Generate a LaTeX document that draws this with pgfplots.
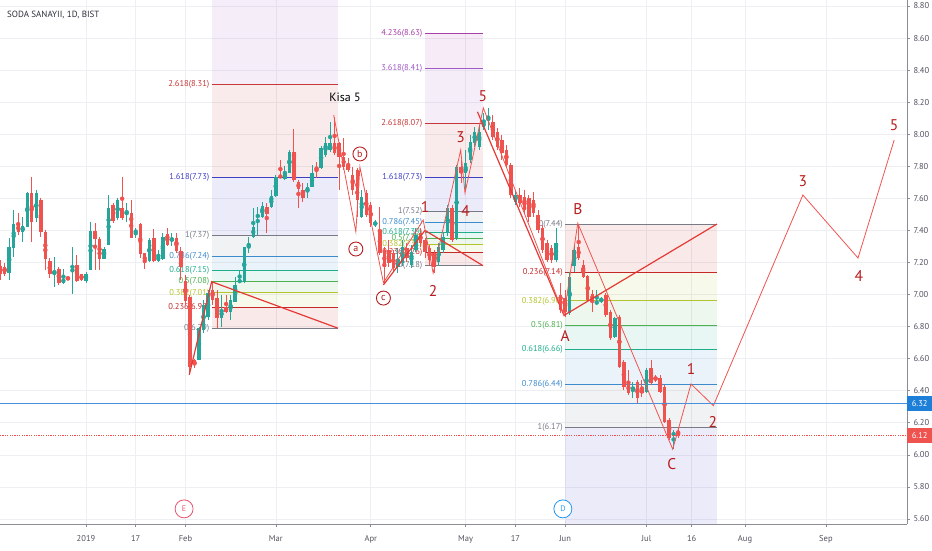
\documentclass[border=0pt]{standalone}
\usepackage{pgfplots}
\pgfplotsset{compat=1.18}
\usepackage{pgfplotstable}
\usepackage{fontspec}
\setmainfont{PT Sans}
\definecolor{cg}{HTML}{26A69A}
\definecolor{cr}{HTML}{EF5350}
\definecolor{tool}{HTML}{E53935}
\definecolor{wlab}{HTML}{B71C1C}
\definecolor{lv0}{HTML}{787B86}
\definecolor{lvA}{HTML}{C62828}
\definecolor{lvB}{HTML}{B2C42E}
\definecolor{lvC}{HTML}{4CAF50}
\definecolor{lvD}{HTML}{1FAE8C}
\definecolor{lvE}{HTML}{3D8BCD}
\definecolor{lvF}{HTML}{3F3FC4}
\definecolor{lvG}{HTML}{C83737}
\definecolor{lvH}{HTML}{A05AC8}
\definecolor{lvI}{HTML}{A83EA8}
\definecolor{gridc}{HTML}{EDEFF3}
\definecolor{axc}{HTML}{8A8D96}
\definecolor{lblc}{HTML}{50535E}
\definecolor{blueln}{HTML}{4A8FDC}
\definecolor{bluebox}{HTML}{1E7FD8}
\definecolor{titlec}{HTML}{2A2E39}
\definecolor{ecol}{HTML}{E8546F}
\definecolor{dcol}{HTML}{2196F3}
\newcommand{\fs}{\fontsize{8.5}{9}\selectfont}
\newcommand{\wf}{\fontsize{15.5}{15.5}\selectfont}
\newcommand{\lev}[6]{\addplot[#5, line width=1pt, forget plot] coordinates {(#2,#4) (#3,#4)};
 \node[anchor=east, inner sep=0.5pt, text=#5, font=\fs] at (axis cs:#1,#4) {#6};}
\newcommand{\band}[5]{\addplot[draw=none, fill=#5, fill opacity=0.1, forget plot] coordinates {(#1,#3) (#2,#3) (#2,#4) (#1,#4)} -- cycle;}

\pgfplotstableread{
d o h l c
-17 7.136 7.350 7.091 7.294
-16 7.292 7.527 7.236 7.438
-14 7.392 7.486 7.330 7.427
-13 7.423 7.642 7.423 7.631
-11 7.479 7.652 7.455 7.636
-7 7.132 7.236 7.045 7.136
-5 7.074 7.157 7.066 7.097
-3 7.168 7.299 7.003 7.178
0 7.084 7.143 7.074 7.128
1 7.153 7.454 7.153 7.396
4 7.222 7.299 7.220 7.284
5 7.309 7.621 7.309 7.538
7 7.475 7.600 7.465 7.590
9 7.507 7.573 7.455 7.509
11 7.392 7.413 7.351 7.394
14 7.209 7.351 7.205 7.340
16 7.211 7.278 7.205 7.240
17 7.220 7.382 7.215 7.357
19 7.340 7.386 7.303 7.344
25 6.591 6.797 6.591 6.791
26 6.779 6.966 6.760 6.935
27 6.860 7.028 6.841 7.010
30 6.854 6.997 6.797 6.904
32 6.891 6.997 6.841 6.966
33 6.953 7.109 6.953 7.059
34 7.078 7.153 7.072 7.090
35 7.078 7.297 7.072 7.297
36 7.290 7.359 7.259 7.309
37 7.359 7.540 7.353 7.421
38 7.484 7.546 7.371 7.496
39 7.484 7.577 7.478 7.552
41 7.546 7.652 7.540 7.615
42 7.615 7.746 7.608 7.733
44 7.721 7.802 7.715 7.758
45 7.758 7.902 7.758 7.889
49 7.640 7.696 7.602 7.671
50 7.671 7.808 7.671 7.758
52 7.789 7.927 7.783 7.914
53 7.871 7.983 7.858 7.946
54 7.902 8.076 7.889 7.946
61 7.484 7.652 7.478 7.608
64 7.434 7.465 7.421 7.452
69 7.172 7.290 7.134 7.215
70 7.197 7.340 7.178 7.297
72 7.184 7.309 7.166 7.265
73 7.278 7.415 7.265 7.371
78 7.203 7.322 7.178 7.297
79 7.278 7.390 7.259 7.359
80 7.384 7.559 7.365 7.540
82 7.353 7.808 7.340 7.796
84 7.758 7.902 7.652 7.821
85 7.839 7.995 7.821 7.952
86 7.946 8.045 7.921 8.014
87 7.921 8.058 7.902 8.014
88 8.045 8.133 8.026 8.076
89 8.101 8.164 8.026 8.108
95 7.577 7.652 7.559 7.621
104 7.215 7.415 7.203 7.322
107 6.885 7.141 6.872 7.109
108 7.178 7.309 7.141 7.278
113 6.947 7.028 6.935 6.953
114 6.953 6.985 6.947 6.978
117 6.735 6.860 6.729 6.854
121 6.405 6.454 6.355 6.423
124 6.392 6.542 6.386 6.529
130 6.124 6.155 6.037 6.136
}\up

\pgfplotstableread{
d o h l c
-19 7.178 7.215 7.091 7.126
-18 7.174 7.195 7.116 7.126
-15 7.438 7.507 7.371 7.392
-12 7.636 7.735 7.330 7.455
-10 7.590 7.600 7.361 7.392
-9 7.392 7.402 7.153 7.222
-8 7.211 7.226 7.101 7.126
-6 7.157 7.174 7.059 7.070
-4 7.107 7.112 7.090 7.095
-2 7.184 7.247 7.080 7.084
-1 7.126 7.130 7.087 7.091
2 7.396 7.444 7.153 7.346
3 7.346 7.361 7.153 7.220
6 7.559 7.569 7.448 7.461
8 7.538 7.731 7.465 7.475
10 7.507 7.590 7.351 7.351
12 7.438 7.444 7.226 7.251
13 7.257 7.261 7.159 7.195
15 7.355 7.407 7.205 7.209
18 7.378 7.413 7.303 7.309
20 7.355 7.382 7.261 7.272
21 7.272 7.299 7.091 7.174
22 7.084 7.122 6.935 6.960
23 6.985 7.000 6.498 6.548
24 6.591 6.600 6.540 6.560
28 7.028 7.078 6.935 6.966
29 6.978 7.028 6.791 6.854
31 6.922 6.997 6.885 6.891
40 7.546 7.571 7.384 7.502
43 7.746 7.839 7.727 7.727
46 7.889 8.033 7.702 7.715
47 7.702 7.715 7.540 7.658
48 7.652 7.696 7.577 7.602
51 7.796 7.827 7.727 7.777
55 7.946 8.108 7.871 7.883
56 7.946 7.952 7.652 7.858
57 7.858 7.977 7.777 7.796
58 7.808 7.852 7.764 7.777
59 7.746 7.796 7.621 7.652
60 7.777 7.789 7.484 7.590
62 7.633 7.652 7.484 7.496
63 7.559 7.577 7.421 7.446
65 7.403 7.546 7.247 7.259
66 7.278 7.297 7.072 7.172
67 7.278 7.340 7.172 7.197
68 7.259 7.278 7.141 7.166
71 7.290 7.322 7.203 7.228
74 7.384 7.415 7.297 7.322
75 7.340 7.353 7.228 7.265
76 7.290 7.309 7.184 7.215
77 7.259 7.278 7.134 7.172
81 7.540 7.559 7.328 7.340
83 7.796 7.839 7.696 7.758
90 8.076 8.120 7.964 7.983
91 8.014 8.039 7.902 7.921
92 7.964 7.995 7.839 7.883
93 7.902 7.933 7.789 7.808
94 7.808 7.821 7.602 7.621
96 7.621 7.665 7.546 7.571
97 7.608 7.652 7.508 7.527
98 7.602 7.621 7.452 7.484
99 7.590 7.640 7.484 7.508
100 7.496 7.527 7.384 7.403
101 7.415 7.434 7.259 7.278
102 7.322 7.340 7.203 7.215
103 7.290 7.309 7.197 7.215
105 6.997 7.072 6.885 6.904
106 6.978 7.028 6.860 6.891
109 7.297 7.440 7.215 7.228
110 7.184 7.215 7.103 7.109
111 7.116 7.122 6.953 6.966
112 7.003 7.028 6.891 6.960
115 6.997 7.010 6.860 6.872
116 6.891 6.904 6.716 6.729
118 6.860 6.872 6.542 6.548
119 6.579 6.592 6.405 6.423
120 6.448 6.529 6.373 6.386
122 6.454 6.467 6.323 6.355
123 6.405 6.467 6.361 6.386
125 6.542 6.592 6.436 6.448
126 6.486 6.498 6.454 6.467
127 6.479 6.498 6.386 6.392
128 6.423 6.436 6.199 6.205
129 6.217 6.230 6.093 6.105
131 6.143 6.174 6.105 6.120
}\down

\begin{document}
\begin{tikzpicture}
\useasboundingbox (0pt,-26pt) rectangle (932pt,524pt);
\begin{axis}[
 at={(0pt,0pt)}, anchor=south west,
 scale only axis, width=907pt, height=524pt,
 xmin=-19.027, xmax=181.637, ymin=5.5686, ymax=8.8374,
 axis x line*=bottom, axis y line*=right,
 axis line style={-, draw=axc, line width=0.8pt},
 xtick={0,11,22,42,63,84,95,106,124,134,145.8,163.7},
 xticklabels={2019,17,Feb,Mar,Apr,May,17,Jun,Jul,16,Aug,Sep},
 ytick={5.6,5.8,6.0,6.2,6.4,6.6,6.8,7.0,7.2,7.4,7.6,7.8,8.0,8.2,8.4,8.6,8.8},
 yticklabel style={/pgf/number format/.cd, fixed, fixed zerofill, precision=2, assume math mode=true},
 xticklabel style={yshift=-5pt},
 tick style={draw=axc, line width=0.6pt}, major tick length=3pt, tick align=outside,
 grid=major, major grid style={draw=gridc, line width=0.6pt},
 ticklabel style={font=\fontsize{8.5}{9}\selectfont, text=lblc},
 clip mode=individual,
]
% ---- fib bands
\band{27.88}{55.75}{6.79}{6.92}{lvA}
\band{27.88}{55.75}{6.92}{7.01}{lvB}
\band{27.88}{55.75}{7.01}{7.08}{lvC}
\band{27.88}{55.75}{7.08}{7.15}{lvD}
\band{27.88}{55.75}{7.15}{7.24}{lvE}
\band{27.88}{55.75}{7.24}{7.37}{lv0}
\band{27.88}{55.75}{7.37}{7.73}{lvF}
\band{27.88}{55.75}{7.73}{8.31}{lvG}
\band{27.88}{55.75}{8.31}{8.8374}{lvH}
\band{75.0}{87.83}{7.18}{7.26}{lvA}
\band{75.0}{87.83}{7.26}{7.31}{lvB}
\band{75.0}{87.83}{7.31}{7.35}{lvC}
\band{75.0}{87.83}{7.35}{7.39}{lvD}
\band{75.0}{87.83}{7.39}{7.45}{lvE}
\band{75.0}{87.83}{7.45}{7.52}{lv0}
\band{75.0}{87.83}{7.52}{7.73}{lvF}
\band{75.0}{87.83}{7.73}{8.07}{lvG}
\band{75.0}{87.83}{8.07}{8.41}{lvH}
\band{75.0}{87.83}{8.41}{8.63}{lvI}
\band{106.0}{139.6}{7.14}{7.44}{lvA}
\band{106.0}{139.6}{6.96}{7.14}{lvB}
\band{106.0}{139.6}{6.81}{6.96}{lvC}
\band{106.0}{139.6}{6.66}{6.81}{lvD}
\band{106.0}{139.6}{6.44}{6.66}{lvE}
\band{106.0}{139.6}{6.17}{6.44}{lv0}
\band{106.0}{139.6}{5.5686}{6.17}{lvF}
% ---- fib levels
\lev{27.43}{27.88}{55.75}{6.79}{lv0}{0(6.79)}
\lev{27.43}{27.88}{55.75}{6.92}{lvA}{0.236(6.92)}
\lev{27.43}{27.88}{55.75}{7.01}{lvB}{0.382(7.01)}
\lev{27.43}{27.88}{55.75}{7.08}{lvC}{0.5(7.08)}
\lev{27.43}{27.88}{55.75}{7.15}{lvD}{0.618(7.15)}
\lev{27.43}{27.88}{55.75}{7.24}{lvE}{0.786(7.24)}
\lev{27.43}{27.88}{55.75}{7.37}{lv0}{1(7.37)}
\lev{27.43}{27.88}{55.75}{7.73}{lvF}{1.618(7.73)}
\lev{27.43}{27.88}{55.75}{8.31}{lvG}{2.618(8.31)}
\lev{74.56}{75.0}{87.83}{7.18}{lv0}{0(7.18)}
\lev{74.56}{75.0}{87.83}{7.26}{lvA}{0.236(7.26)}
\lev{74.56}{75.0}{87.83}{7.31}{lvB}{0.382(7.31)}
\lev{74.56}{75.0}{87.83}{7.35}{lvC}{0.5(7.35)}
\lev{74.56}{75.0}{87.83}{7.39}{lvD}{0.618(7.39)}
\lev{74.56}{75.0}{87.83}{7.45}{lvE}{0.786(7.45)}
\lev{74.56}{75.0}{87.83}{7.52}{lv0}{1(7.52)}
\lev{74.56}{75.0}{87.83}{7.73}{lvF}{1.618(7.73)}
\lev{74.56}{75.0}{87.83}{8.07}{lvG}{2.618(8.07)}
\lev{74.56}{75.0}{87.83}{8.41}{lvH}{3.618(8.41)}
\lev{74.56}{75.0}{87.83}{8.63}{lvI}{4.236(8.63)}
\lev{105.64}{106.0}{139.6}{7.44}{lv0}{0(7.44)}
\lev{105.64}{106.0}{139.6}{7.14}{lvA}{0.236(7.14)}
\lev{105.64}{106.0}{139.6}{6.96}{lvB}{0.382(6.96)}
\lev{105.64}{106.0}{139.6}{6.81}{lvC}{0.5(6.81)}
\lev{105.64}{106.0}{139.6}{6.66}{lvD}{0.618(6.66)}
\lev{105.64}{106.0}{139.6}{6.44}{lvE}{0.786(6.44)}
\lev{105.64}{106.0}{139.6}{6.17}{lv0}{1(6.17)}
% ---- candles: wicks
\addplot[only marks, mark=none, color=cg, forget plot, error bars/.cd, y dir=both, y explicit, error mark=none, error bar style={line width=1pt}]
 table[x=d, y expr={(\thisrow{h}+\thisrow{l})/2}, y error expr={(\thisrow{h}-\thisrow{l})/2}] {\up};
\addplot[only marks, mark=none, color=cr, forget plot, error bars/.cd, y dir=both, y explicit, error mark=none, error bar style={line width=1pt}]
 table[x=d, y expr={(\thisrow{h}+\thisrow{l})/2}, y error expr={(\thisrow{h}-\thisrow{l})/2}] {\down};
% ---- candles: bodies
\addplot[only marks, mark=none, color=cg, forget plot, error bars/.cd, y dir=both, y explicit, error mark=none, error bar style={line width=3.4pt}]
 table[x=d, y expr={(\thisrow{o}+\thisrow{c})/2}, y error expr={max(abs(\thisrow{c}-\thisrow{o})/2,0.004)}] {\up};
\addplot[only marks, mark=none, color=cr, forget plot, error bars/.cd, y dir=both, y explicit, error mark=none, error bar style={line width=3.4pt}]
 table[x=d, y expr={(\thisrow{o}+\thisrow{c})/2}, y error expr={max(abs(\thisrow{c}-\thisrow{o})/2,0.004)}] {\down};
% ---- fib tool lines
\addplot[tool, line width=1.2pt, forget plot] coordinates {(22.85,6.50) (27.8,7.08) (55.75,6.79)};
\addplot[tool, line width=1.2pt, forget plot] coordinates {(65.8,7.06) (75.0,7.40) (87.83,7.18)};
\addplot[tool, line width=1.2pt, forget plot] coordinates {(86.6,8.14) (105.75,6.87) (139.6,7.44)};
% ---- elliott wave
\addplot[cr, line width=0.8pt, forget plot] coordinates {(54.8,8.12) (59.7,7.392) (60.6,7.796) (65.8,7.074) (74.6,7.465) (76.8,7.134) (82.9,7.902) (83.85,7.634) (87.9,8.164) (105.75,6.872) (108.8,7.445) (129.8,6.035) (133.85,6.442) (138.8,6.307) (158.6,7.621) (170.8,7.228) (178.8,7.964)};
% ---- horizontal lines
\addplot[blueln, line width=1.8pt, forget plot] coordinates {(-19.027,6.32) (181.637,6.32)};
\addplot[cr, dash pattern=on 1.2pt off 1.2pt, line width=1pt, forget plot] coordinates {(-19.027,6.12) (181.637,6.12)};
% ---- labels
\node[anchor=west, font=\fontsize{9}{10}\selectfont, text=titlec] at (rel axis cs:0.004,0.9714) {SODA SANAYII, 1D, BIST};
\node[font=\fontsize{12}{12}\selectfont, text=black] at (axis cs:57.3,8.232) {Kisa 5};
\node[circle, draw=wlab, fill=white, line width=0.9pt, minimum size=14pt, inner sep=0pt, text=wlab, font=\fontsize{10}{10}\selectfont] at (axis cs:59.7,7.284) {a};
\node[circle, draw=wlab, fill=white, line width=0.9pt, minimum size=14pt, inner sep=0pt, text=wlab, font=\fontsize{10}{10}\selectfont] at (axis cs:60.6,7.877) {b};
\node[circle, draw=wlab, fill=white, line width=0.9pt, minimum size=14pt, inner sep=0pt, text=wlab, font=\fontsize{10}{10}\selectfont] at (axis cs:65.8,6.978) {c};
\node[text=wlab, font=\wf] at (axis cs:75.0,7.546) {1};
\node[text=wlab, font=\wf] at (axis cs:76.8,7.022) {2};
\node[text=wlab, font=\wf] at (axis cs:82.9,7.983) {3};
\node[text=wlab, font=\wf] at (axis cs:84.0,7.521) {4};
\node[text=wlab, font=\wf] at (axis cs:87.8,8.239) {5};
\node[text=wlab, font=\wf] at (axis cs:106.0,6.741) {A};
\node[text=wlab, font=\wf] at (axis cs:108.85,7.534) {B};
\node[text=wlab, font=\wf] at (axis cs:129.6,5.943) {C};
\node[text=wlab, font=\wf] at (axis cs:133.85,6.536) {1};
\node[text=wlab, font=\wf] at (axis cs:138.7,6.205) {2};
\node[text=wlab, font=\wf] at (axis cs:158.6,7.708) {3};
\node[text=wlab, font=\wf] at (axis cs:171.0,7.116) {4};
\node[text=wlab, font=\wf] at (axis cs:178.8,8.058) {5};
\node[circle, draw=ecol, fill=white, line width=0.8pt, minimum size=18pt, inner sep=0pt, text=ecol, font=\fontsize{8}{8}\selectfont] at (axis cs:21.7,5.663) {E};
\node[circle, draw=dcol, fill=white, line width=0.8pt, minimum size=18pt, inner sep=0pt, text=dcol, font=\fontsize{8}{8}\selectfont] at (axis cs:105.5,5.663) {D};
\node[anchor=west, fill=bluebox, text=white, minimum width=25pt, minimum height=15pt, inner sep=1pt, font=\fontsize{8.5}{9}\selectfont] at (axis cs:181.637,6.32) {6.32};
\node[anchor=west, fill=cr, text=white, minimum width=25pt, minimum height=15pt, inner sep=1pt, font=\fontsize{8.5}{9}\selectfont] at (axis cs:181.637,6.12) {6.12};
\end{axis}
\end{tikzpicture}
\end{document}
